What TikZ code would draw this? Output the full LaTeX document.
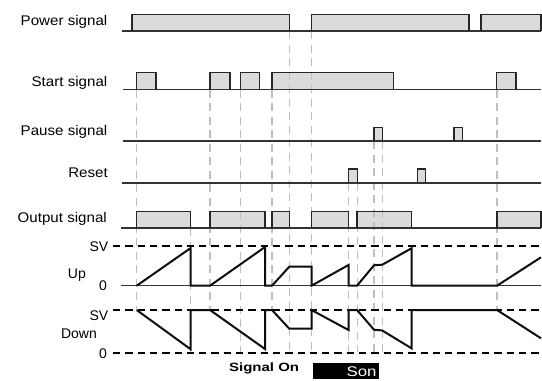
\documentclass[tikz,border=0pt]{standalone}
\usepackage{fontspec}
\setmainfont{Liberation Sans}
\begin{document}
\begin{tikzpicture}[x=1pt,y=-1pt,
  baseline/.style={line width=1.2pt, draw=black!80},
  pulsefill/.style={fill=black!14},
  pulseline/.style={draw=black!85, line width=1.3pt},
  wave/.style={line width=2pt, line join=miter, draw=black!95},
  svline/.style={line width=1.8pt, dash pattern=on 7.3pt off 5pt},
  guide/.style={draw=black!25, line width=1.4pt, dash pattern=on 8pt off 5.5pt},
  lab/.style={anchor=base east, inner sep=0pt, font=\fontsize{14}{16}\selectfont}]
\useasboundingbox (0,0) rectangle (542,381);

% ---------- pulse fills ----------
\foreach \a/\b in {132/289.3, 311.5/469, 481/541}
  \fill[pulsefill] (\a,14.5) rectangle (\b,31);
\foreach \a/\b in {136.7/156, 210/230, 240.7/259.3, 272/393.7, 496.5/516}
  \fill[pulsefill] (\a,72.5) rectangle (\b,89.5);
\foreach \a/\b in {374/382.3, 454/462.7}
  \fill[pulsefill] (\a,127.3) rectangle (\b,141);
\foreach \a/\b in {348.5/357.5, 417.7/425.7}
  \fill[pulsefill] (\a,169) rectangle (\b,183);
\foreach \a/\b in {136.7/190.7, 210/265, 272/289.3, 311.5/348.5, 357/411.5, 497/541}
  \fill[pulsefill] (\a,211.5) rectangle (\b,228);

% ---------- guide lines ----------
\foreach \x/\ya/\yb in {136.7/89.5/310, 190.7/228/352, 210/89.5/310, 240.7/89.5/352,
    272/89.5/310, 289.3/31/352, 311.5/31/352, 348.5/183/352, 357.5/183/352,
    374/141/352, 382.3/141/352, 497/89.5/310}
  \draw[guide] (\x,\ya) -- (\x,\yb);

% ---------- baselines ----------
\draw[baseline] (122,31) -- (541,31);
\draw[baseline] (123,89.5) -- (541,89.5);
\draw[baseline] (122.5,141) -- (541,141);
\draw[baseline] (121.5,183) -- (541,183);
\draw[baseline] (121,228) -- (541,228);
\draw[baseline] (120.5,285.7) -- (541,285.7);

% ---------- pulse outlines ----------
\foreach \a/\b in {132/289.3, 311.5/469, 481/541}
  \draw[pulseline] (\a,31) -- (\a,14.5) -- (\b,14.5) -- (\b,31);
\foreach \a/\b in {136.7/156, 210/230, 240.7/259.3, 272/393.7, 496.5/516}
  \draw[pulseline] (\a,89.5) -- (\a,72.5) -- (\b,72.5) -- (\b,89.5);
\foreach \a/\b in {374/382.3, 454/462.7}
  \draw[pulseline] (\a,141) -- (\a,127.3) -- (\b,127.3) -- (\b,141);
\foreach \a/\b in {348.5/357.5, 417.7/425.7}
  \draw[pulseline] (\a,183) -- (\a,169) -- (\b,169) -- (\b,183);
\foreach \a/\b in {136.7/190.7, 210/265, 272/289.3, 311.5/348.5, 357/411.5, 497/541}
  \draw[pulseline] (\a,228) -- (\a,211.5) -- (\b,211.5) -- (\b,228);

% ---------- SV / zero dashed lines ----------
\draw[svline] (113,246) -- (541,246);
\draw[svline] (113,310) -- (541,310);
\draw[svline] (113,352.7) -- (541,352.7);

% ---------- waveforms ----------
\draw[wave] (136.7,285.7) -- (190.7,248) -- (190.7,285.7) -- (210,285.7) -- (265,247) -- (265,285.7)
  -- (272,285.7) -- (289.3,266.7) -- (311.5,266.7) -- (311.5,285.7) -- (348.5,265) -- (348.5,285.7)
  -- (357,285.7) -- (374,265.3) -- (382.3,264.7) -- (411.5,248.3) -- (411.5,285.7) -- (497,285.7)
  -- (541,257.3);
\draw[wave] (136.7,310) -- (190.7,349.3) -- (190.7,310) -- (210,310) -- (265,349) -- (265,310)
  -- (272,310) -- (289.3,328.7) -- (311.5,328.7) -- (311.5,310) -- (348.5,330) -- (348.5,310)
  -- (357,310) -- (374,329.7) -- (382.3,330.5) -- (411.5,348.3) -- (411.5,310) -- (497,310)
  -- (541,338.3);

% ---------- labels ----------
\node[lab] (lpower) at (107.5,25) {\scalebox{1.08}[1]{Power signal}};
\node[lab] (lstart) at (107.5,86) {\scalebox{1.08}[1]{Start signal}};
\node[lab] (lpause) at (107.5,135.5) {\scalebox{1.08}[1]{Pause signal}};
\node[lab] (lreset) at (108,177.5) {\scalebox{1.08}[1]{Reset}};
\node[lab] (loutput) at (107,222) {\scalebox{1.08}[1]{Output signal}};
\node[lab] (lsvup) at (108.5,251.5) {SV};
\node[lab] (lup) at (86,278) {Up};
\node[lab] (lzeroup) at (107,290.5) {0};
\node[lab] (lsvdown) at (108.5,320) {SV};
\node[lab] (ldown) at (97,338) {Down};
\node[lab] (lzerodown) at (107,358) {0};

\node[anchor=base east, inner sep=0pt, font=\fontsize{12}{14}\selectfont\bfseries] (lsignalon) at (299.3,371.7) {\scalebox{1.25}[1]{Signal On}};
\fill[black] (312.7,363.3) rectangle (379,379.3);
\node[anchor=base east, inner sep=0pt, text=white, font=\fontsize{14}{16}\selectfont] (lson) at (376.7,376) {\scalebox{1.2}[1]{Son}};
\end{tikzpicture}
\end{document}
